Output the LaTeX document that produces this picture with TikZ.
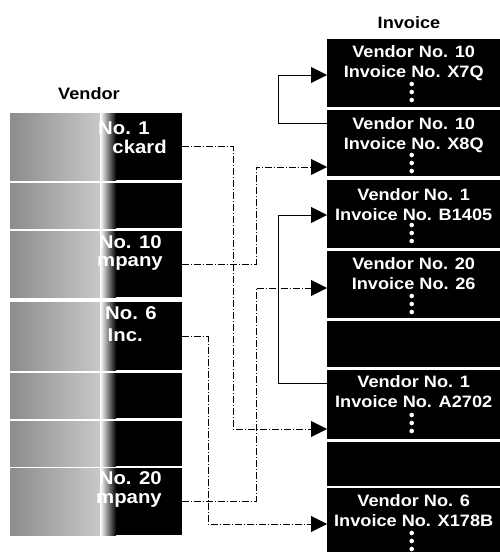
\documentclass[tikz,border=0pt]{standalone}
\usepackage{fontspec}
\setmainfont{Liberation Sans}[FakeStretch=1.1]
\usetikzlibrary{positioning, arrows.meta, calc}

\begin{document}
\begin{tikzpicture}[
  x=1pt, y=-1pt,
  font=\bfseries,
  head/.style={font=\bfseries\fontsize{16.5}{20}\selectfont, anchor=base, inner sep=0pt},
  vendbox/.style={fill=black, minimum width=172pt, minimum height=#1, inner sep=0pt, anchor=north west,
    path picture={
      \shade[left color=black!45, right color=white] (path picture bounding box.north west)
        rectangle ([xshift=90pt]path picture bounding box.south west);
      \shade[left color=white, right color=black] ([xshift=90pt]path picture bounding box.north west)
        rectangle ([xshift=106pt]path picture bounding box.south west);}},
  invbox/.style={fill=black, minimum width=173pt, minimum height=#1, inner sep=0pt, anchor=north west},
  vendtext/.style={text=white, font=\bfseries\fontsize{18.5}{20}\selectfont, anchor=base east, inner sep=0pt},
  invtext/.style={text=white, font=\bfseries\fontsize{16.5}{20}\selectfont, align=center, anchor=north, inner sep=0pt},
  vlink/.style={-{Triangle[length=16pt, width=16pt]}, line width=0.8pt,
    dash pattern=on 7pt off 2pt on 1pt off 2pt},
  chain/.style={-{Triangle[length=16pt, width=16pt]}, line width=1pt}
]
\useasboundingbox (0,0) rectangle (500,552);

% column headers
\node[head] (vendhead) at (89,99) {Vendor};
\node[head] (invhead) at (409,28) {Invoice};

% vendor records, faded out on the left
\node[vendbox=67pt] (v1) at (10,113) {};
\node[vendbox=45pt] (v2) at (10,183) {};
\node[vendbox=66pt] (v3) at (10,231) {};
\node[vendbox=68pt] (v4) at (10,302) {};
\node[vendbox=45pt] (v5) at (10,373) {};
\node[vendbox=45pt] (v6) at (10,421) {};
\node[vendbox=67pt] (v7) at (10,468) {};

\node[vendtext] (v1a) at ($(v1.north west)+(140,21)$) {No. 1};
\node[vendtext] (v1b) at ($(v1.north west)+(157,40)$) {ckard};
\node[vendtext] (v3a) at ($(v3.north west)+(152,17)$) {No. 10};
\node[vendtext] (v3b) at ($(v3.north west)+(153,35)$) {mpany};
\node[vendtext] (v4a) at ($(v4.north west)+(147,17)$) {No. 6};
\node[vendtext] (v4b) at ($(v4.north west)+(133,39)$) {Inc.};
\node[vendtext] (v7a) at ($(v7.north west)+(152,16)$) {No. 20};
\node[vendtext] (v7b) at ($(v7.north west)+(152,35)$) {mpany};

% invoice records
\node[invbox=68pt] (inv1) at (327,39) {};
\node[invbox=66pt] (inv2) at (327,110) {};
\node[invbox=68pt] (inv3) at (327,180) {};
\node[invbox=67pt] (inv4) at (327,251) {};
\node[invbox=46pt] (inv5) at (327,321) {};
\node[invbox=69pt] (inv6) at (327,370) {};
\node[invbox=44pt] (inv7) at (327,442) {};
\node[invbox=64pt] (inv8) at (327,488) {};

\node[invtext] (inv1t) at ($(inv1.north)+(0,6)$) {Vendor No. 10\\Invoice No. X7Q};
\node[invtext] (inv2t) at ($(inv2.north)+(0,7)$) {Vendor No. 10\\Invoice No. X8Q};
\node[invtext] (inv3t) at ($(inv3.north)+(0,8)$) {Vendor No. 1\\Invoice No. B1405};
\node[invtext] (inv4t) at ($(inv4.north)+(0,6)$) {Vendor No. 20\\Invoice No. 26};
\node[invtext] (inv6t) at ($(inv6.north)+(0,5)$) {Vendor No. 1\\Invoice No. A2702};
\node[invtext] (inv8t) at ($(inv8.north)+(0,6)$) {Vendor No. 6\\Invoice No. X178B};

% continuation dots
\foreach \b in {inv1,inv2,inv3,inv4,inv6,inv8}
  \foreach \d in {45,53,61}
    \fill[white] ($(\b.north)+(-2,\d)$) circle (2.3pt);

% lanes and link ends
\coordinate (laneA) at (208,0);
\coordinate (laneB) at (233,0);
\coordinate (laneC) at (256,0);
\coordinate (laneD) at (278,0);
\coordinate (in1) at ($(inv1.north west)+(0,36)$);
\coordinate (in2) at ($(inv2.north west)+(0,57)$);
\coordinate (in3) at ($(inv3.north west)+(0,35)$);
\coordinate (in4) at ($(inv4.north west)+(0,37)$);
\coordinate (in6) at ($(inv6.north west)+(0,59)$);
\coordinate (in8) at ($(inv8.north west)+(0,36)$);
\coordinate (out2) at ($(inv2.north west)+(0,13)$);
\coordinate (out6) at ($(inv6.north west)+(0,13)$);

% vendor to first invoice
\draw[vlink] (v1.east) -| (laneB |- in6) -- (in6);
\draw[vlink] (v3.east) -| (laneC |- in2) -- (in2);
\draw[vlink] (v4.east) -| (laneA |- in8) -- (in8);
\draw[vlink] (v7.east) -| (laneC |- in4) -- (in4);

% invoice to next invoice of the same vendor
\draw[chain] (out2) -| (laneD |- in1) -- (in1);
\draw[chain] (out6) -| (laneD |- in3) -- (in3);

\end{tikzpicture}
\end{document}
